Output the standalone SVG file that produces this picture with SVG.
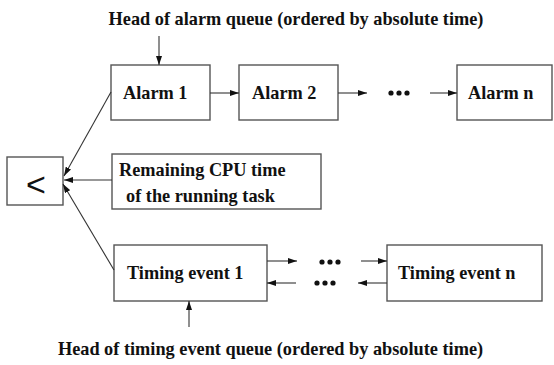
<svg xmlns="http://www.w3.org/2000/svg" width="554" height="365" viewBox="0 0 554 365">
<defs>
<marker id="ah" markerUnits="userSpaceOnUse" markerWidth="10" markerHeight="6" refX="9" refY="3" orient="auto">
<path d="M0,0 L9,3 L0,6 Z" fill="#111"/>
</marker>
<style>
.box{fill:#fff;stroke:#555;stroke-width:1.4}
.t{font-family:"Liberation Serif","Times New Roman",serif;font-weight:bold;font-size:18.3px;fill:#111}
.c{stroke:#333;stroke-width:1.1;fill:none;marker-end:url(#ah)}
.dot{fill:#111}
</style>
</defs>
<rect width="554" height="365" fill="#fff"/>
<text class="t" x="296" y="25" text-anchor="middle">Head of alarm queue (ordered by absolute time)</text>
<text class="t" x="270.5" y="355" text-anchor="middle">Head of timing event queue (ordered by absolute time)</text>
<g id="cmp">
<rect class="box" x="7" y="157" width="56" height="48"/>
<text x="36" y="196" text-anchor="middle" font-family="Liberation Sans, Arial, sans-serif" font-size="34" fill="#111">&lt;</text>
</g>
<g id="alarm1"><rect class="box" x="111" y="65" width="99" height="55"/><text class="t" x="123" y="99">Alarm 1</text></g>
<g id="alarm2"><rect class="box" x="239" y="65" width="99" height="55"/><text class="t" x="252" y="99">Alarm 2</text></g>
<g id="alarmn"><rect class="box" x="457" y="65" width="95" height="55"/><text class="t" x="468" y="99">Alarm n</text></g>
<g id="cpu"><rect class="box" x="112" y="154" width="209" height="55"/><text class="t" x="119" y="176">Remaining CPU time</text><text class="t" x="126" y="202">of the running task</text></g>
<g id="te1"><rect class="box" x="114" y="245" width="153" height="56"/><text class="t" x="127" y="279">Timing event 1</text></g>
<g id="ten"><rect class="box" x="387" y="245" width="155" height="56"/><text class="t" x="398" y="279">Timing event n</text></g>
<g id="dots">
<circle class="dot" cx="391" cy="93" r="2.6"/><circle class="dot" cx="399" cy="93" r="2.6"/><circle class="dot" cx="407" cy="93" r="2.6"/>
<circle class="dot" cx="322" cy="262" r="2.6"/><circle class="dot" cx="330" cy="262" r="2.6"/><circle class="dot" cx="338" cy="262" r="2.6"/>
<circle class="dot" cx="317" cy="283" r="2.6"/><circle class="dot" cx="325" cy="283" r="2.6"/><circle class="dot" cx="333" cy="283" r="2.6"/>
</g>
<g id="connectors">
<line class="c" x1="159" y1="36" x2="159" y2="65"/>
<line class="c" x1="189" y1="327" x2="189" y2="301"/>
<line class="c" x1="210" y1="93" x2="239" y2="93"/>
<line class="c" x1="338" y1="93" x2="367" y2="93"/>
<line class="c" x1="430" y1="93" x2="457" y2="93"/>
<line class="c" x1="267" y1="261" x2="297" y2="261"/>
<line class="c" x1="361" y1="261" x2="387" y2="261"/>
<line class="c" x1="296" y1="283" x2="267" y2="283"/>
<line class="c" x1="387" y1="283" x2="358" y2="283"/>
<line class="c" x1="111" y1="92" x2="64" y2="176"/>
<line class="c" x1="112" y1="180" x2="64" y2="180"/>
<line class="c" x1="114" y1="270" x2="63" y2="184"/>
</g>
</svg>
